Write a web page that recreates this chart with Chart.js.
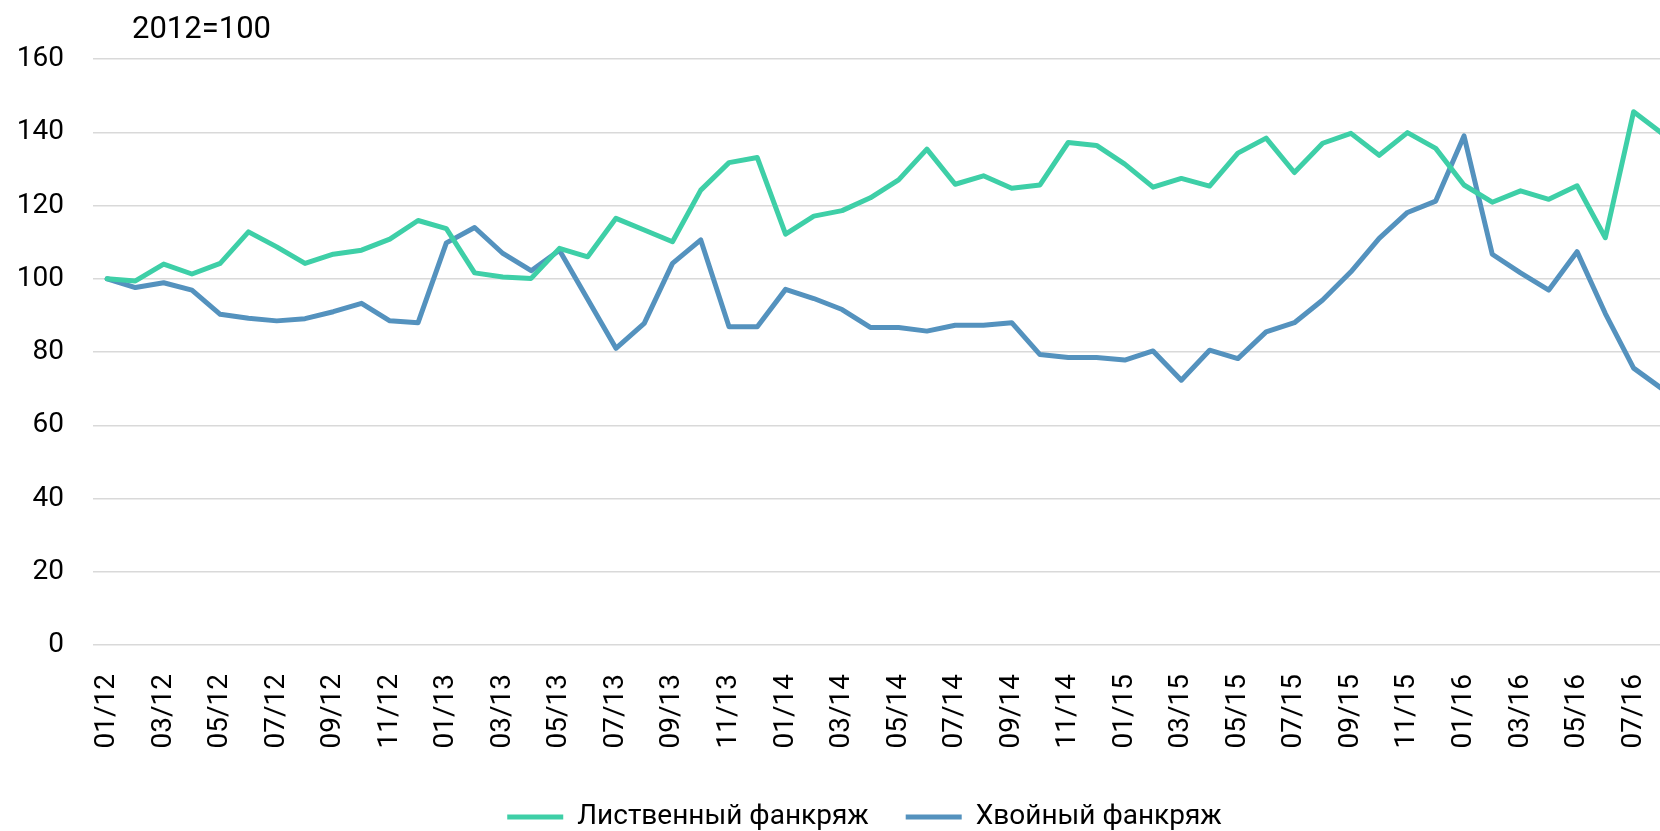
<!DOCTYPE html>
<html lang="ru">
<head>
<meta charset="utf-8">
<title>Фанкряж, 2012=100</title>
<script src="https://cdn.jsdelivr.net/npm/chart.js@4/dist/chart.umd.min.js"></script>
<style>
    html, body { margin: 0; padding: 0; background: #fff; overflow: hidden; }
    /* o gráfico original é cortado na direita, por isso o canvas passa da janela */
    #caixa { width: 1719px; height: 831px; }
</style>
</head>
<body>
<div id="caixa"><canvas id="grafico"></canvas></div>
<script>
// =========================================================
// 1. DADOS
// =========================================================
const meses = [
    '01/12','02/12','03/12','04/12','05/12','06/12','07/12','08/12','09/12','10/12','11/12','12/12',
    '01/13','02/13','03/13','04/13','05/13','06/13','07/13','08/13','09/13','10/13','11/13','12/13',
    '01/14','02/14','03/14','04/14','05/14','06/14','07/14','08/14','09/14','10/14','11/14','12/14',
    '01/15','02/15','03/15','04/15','05/15','06/15','07/15','08/15','09/15','10/15','11/15','12/15',
    '01/16','02/16','03/16','04/16','05/16','06/16','07/16','08/16'
];

const listvennyi = [
    100, 99.4, 104.0, 101.3, 104.2, 112.8, 108.7, 104.2, 106.7, 107.8, 110.8, 115.9,
    113.7, 101.6, 100.5, 100.1, 108.3, 106.0, 116.5, 113.3, 110.1, 124.2, 131.7, 133.1,
    112.2, 117.1, 118.6, 122.1, 127.0, 135.4, 125.8, 128.1, 124.7, 125.6, 137.2, 136.4,
    131.3, 125.0, 127.4, 125.3, 134.3, 138.4, 129.0, 137.0, 139.7, 133.7, 139.9, 135.6,
    125.6, 120.9, 124.0, 121.7, 125.4, 111.2, 145.6, 139.7
];

const khvoinyi = [
    100, 97.6, 98.9, 96.9, 90.3, 89.2, 88.5, 89.1, 91.0, 93.3, 88.5, 88.0,
    109.8, 114.0, 106.9, 102.2, 107.8, 94.4, 81.0, 87.8, 104.2, 110.6, 86.9, 86.9,
    97.1, 94.6, 91.6, 86.7, 86.7, 85.7, 87.3, 87.3, 88.0, 79.3, 78.5, 78.5,
    77.8, 80.3, 72.3, 80.5, 78.2, 85.5, 88.0, 94.2, 101.9, 111.0, 118.1, 121.2,
    139.0, 106.7, 101.6, 96.9, 107.4, 90.5, 75.6, 70.0
];

const nomesSeries = ['Лиственный фанкряж', 'Хвойный фанкряж'];
const textoBase = '2012=100';

const FONTE = "Roboto, 'Liberation Sans', sans-serif";

// =========================================================
// 2. TEXTO "2012=100" NO TOPO
// =========================================================
const textoTopo = {
    id: 'textoTopo',
    afterDraw(chart) {
        const ctx = chart.ctx;
        ctx.save();
        ctx.font = '31px ' + FONTE;
        ctx.fillStyle = '#000';
        ctx.textBaseline = 'alphabetic';
        ctx.textAlign = 'left';
        ctx.fillText(textoBase, chart.chartArea.left + 39, 38);
        ctx.restore();
    }
};

// =========================================================
// 3. DESENHAR O GRÁFICO
// =========================================================
const ctx = document.getElementById('grafico').getContext('2d');

new Chart(ctx, {
    type: 'line',
    data: {
        labels: meses,
        datasets: [
            {
                label: nomesSeries[0],
                data: listvennyi,
                borderColor: '#3ecfa7',
                backgroundColor: '#3ecfa7',
                borderWidth: 5,
                borderJoinStyle: 'round',
                borderCapStyle: 'round',
                pointRadius: 0,
                tension: 0
            },
            {
                label: nomesSeries[1],
                data: khvoinyi,
                borderColor: '#5492be',
                backgroundColor: '#5492be',
                borderWidth: 5,
                borderJoinStyle: 'round',
                borderCapStyle: 'round',
                pointRadius: 0,
                tension: 0
            }
        ]
    },
    options: {
        responsive: true,
        maintainAspectRatio: false,
        animation: false,
        layout: { padding: { left: 10, right: 0, top: 59, bottom: -10 } },
        plugins: {
            legend: {
                position: 'bottom',
                labels: {
                    usePointStyle: true,
                    pointStyle: 'line',
                    pointStyleWidth: 56,
                    padding: 37,
                    color: '#000',
                    font: { family: FONTE, size: 28 }
                }
            },
            tooltip: { enabled: false }
        },
        scales: {
            x: {
                offset: true,
                grid: { display: false, drawTicks: false },
                border: { display: false },
                afterFit: (escala) => {
                    // altura fixa do eixo e sem folga lateral dos rótulos girados
                    escala.height = 121;
                    escala.paddingLeft = 0;
                    escala.paddingRight = 0;
                },
                ticks: {
                    autoSkip: false,
                    minRotation: 90,
                    maxRotation: 90,
                    padding: 29,
                    color: '#000',
                    font: { family: FONTE, size: 28 },
                    callback: function (valor, i) {
                        return i % 2 === 0 ? this.getLabelForValue(valor) : '';
                    }
                }
            },
            y: {
                min: 0,
                max: 160,
                afterFit: (escala) => { escala.width = 83; },
                grid: { color: '#d9d9d9', lineWidth: 1.5, drawTicks: false },
                border: { display: false },
                ticks: {
                    stepSize: 20,
                    padding: 29,
                    color: '#000',
                    font: { family: FONTE, size: 28 }
                }
            },
            // eixo vazio só para guardar espaço à direita (a parte cortada do original)
            folga: {
                type: 'linear',
                position: 'right',
                afterFit: (escala) => { escala.width = 43; },
                grid: { display: false, drawTicks: false },
                border: { display: false },
                ticks: { display: false }
            }
        }
    },
    plugins: [textoTopo]
});
</script>
</body>
</html>
